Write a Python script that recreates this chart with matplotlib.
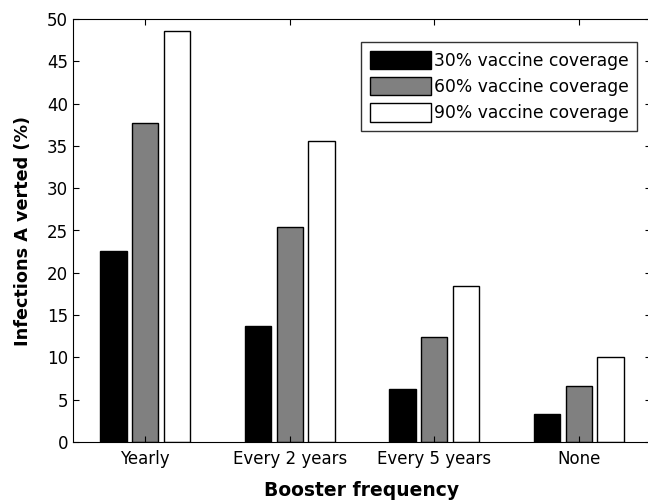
import numpy as np
import matplotlib
matplotlib.use('Agg')
import matplotlib.pyplot as plt
from matplotlib.patches import Patch

categories = ['Yearly', 'Every 2 years', 'Every 5 years', 'None']
series_names = ['30% vaccine coverage', '60% vaccine coverage', '90% vaccine coverage']
cov30 = [22.6, 13.7, 6.3, 3.3]
cov60 = [37.7, 25.4, 12.4, 6.6]
cov90 = [48.6, 35.6, 18.4, 10.0]

colors = ['#000000', '#808080', '#ffffff']

plt.rcParams['font.family'] = ['DejaVu Sans']

fig = plt.figure(figsize=(6.48, 5.04), dpi=100)
# right side of the axes runs just past the picture edge, as in the reference
ax = fig.add_axes([73 / 648, 1 - 442 / 504, 578 / 648, 423 / 504])

x = np.arange(1, len(categories) + 1)
offset = 0.22
width = 0.183
for i, (vals, c) in enumerate(zip([cov30, cov60, cov90], colors)):
    ax.bar(x + (i - 1) * offset, vals, width, color=c, edgecolor='black', linewidth=1.0)

ax.set_xlim(0.5, 4.5)
ax.set_ylim(0, 50)
ax.set_yticks(range(0, 51, 5))
ax.set_xticks(x)
ax.set_xticklabels(categories)
ax.tick_params(direction='in', top=True, right=True, labelsize=12, length=4)
ax.tick_params(axis='x', pad=6)

ax.set_ylabel('Infections A verted (%)', fontsize=12.7, fontweight='bold', labelpad=11)
ax.set_xlabel('Booster frequency', fontsize=13.5, fontweight='bold', labelpad=9)

handles = [Patch(facecolor=c, edgecolor='black') for c in colors]
leg = ax.legend(handles, series_names, loc='upper left', bbox_to_anchor=(288 / 578, 1 - 23 / 423),
                fontsize=12.3, frameon=True, fancybox=False, edgecolor='black',
                handlelength=3.6, handleheight=1.3, handletextpad=0.15, borderpad=0.5,
                labelspacing=0.42, borderaxespad=0)
leg.get_frame().set_linewidth(1.0)

fig.savefig('out.png', dpi=100)
